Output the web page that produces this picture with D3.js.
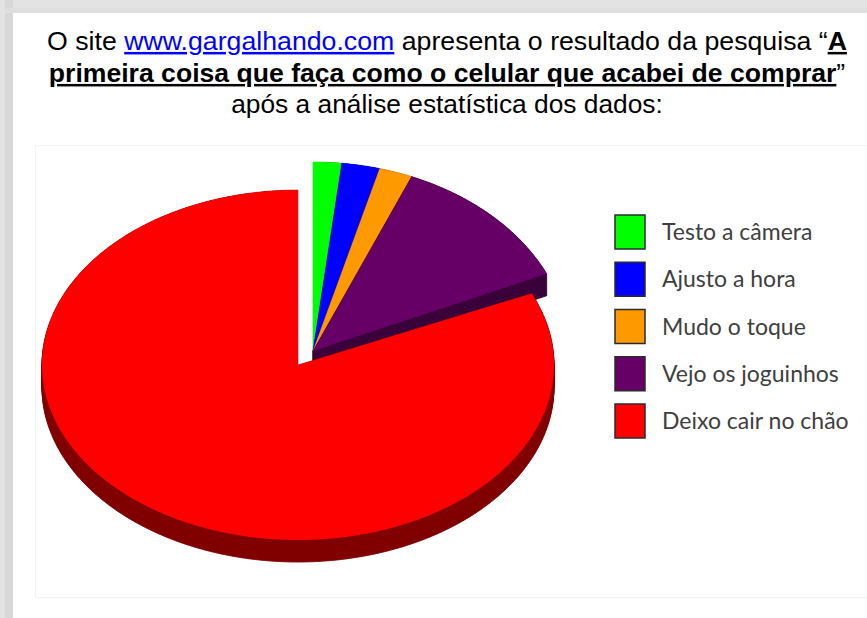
<!DOCTYPE html>
<html>
<head>
<meta charset="utf-8">
<script src="https://cdn.jsdelivr.net/npm/d3@7"></script>
<style>
  html, body { margin: 0; padding: 0; background: #fff; }
  svg { display: block; }
</style>
</head>
<body>
<script>
// ---- data ----
const categories = ["Testo a câmera", "Ajusto a hora", "Mudo o toque", "Vejo os joguinhos", "Deixo cair no chão"];
const values = [1.8, 2.4, 2.1, 12.0, 81.7];
const topColors = ["#00ff00", "#0000ff", "#ff9900", "#660066", "#ff0000"];
const sideColors = ["#00a800", "#00008c", "#b86a00", "#3a003a", "#800000"];
const pulledOut = [true, true, true, true, false];

// title lines, split into styled runs
const titleLines = [
  [{ t: "O site " }, { t: "www.gargalhando.com", link: true }, { t: " apresenta o resultado da pesquisa “" }, { t: "A", bold: true, under: true }],
  [{ t: "primeira coisa que faça como o celular que acabei de comprar", bold: true, under: true }, { t: "”" }],
  [{ t: "após a análise estatística dos dados:" }]
];
const titleWidths = [800, 797, 432];

const W = 867, H = 618;
const svg = d3.select("body").append("svg").attr("width", W).attr("height", H);

// page frame
svg.append("rect").attr("width", W).attr("height", H).attr("fill", "#e3e3e3");
svg.append("rect").attr("x", 5).attr("y", 0).attr("width", 8).attr("height", H).attr("fill", "#d8d8d8");
svg.append("rect").attr("x", 5).attr("y", 8).attr("width", W).attr("height", 5).attr("fill", "#dedede");
svg.append("rect").attr("x", 13).attr("y", 13).attr("width", W - 13).attr("height", H - 13).attr("fill", "#ffffff");

// chart area outline
svg.append("rect").attr("x", 35.5).attr("y", 145.5).attr("width", 840).attr("height", 452)
  .attr("fill", "none").attr("stroke", "#f3f3f3").attr("stroke-width", 1);

// ---- title ----
const cx = 447;
const title = svg.append("g").attr("font-family", "'Liberation Sans', Arial, sans-serif")
  .attr("font-size", 25).attr("fill", "#000").attr("text-anchor", "middle");
const baselines = [50, 82, 113];
titleLines.forEach((runs, i) => {
  const row = title.append("g");
  const txt = row.append("text").attr("x", 0).attr("y", baselines[i]);
  runs.forEach(r => {
    const sp = txt.append("tspan").text(r.t);
    if (r.bold) sp.attr("font-weight", "bold");
    if (r.under || r.link) sp.style("text-decoration", "underline");
    if (r.link) sp.attr("fill", "#0000ff");
  });
  // the face is set a little narrow; stretch each line to its column width
  const w = txt.node().getComputedTextLength();
  row.attr("transform", `translate(${cx},0) scale(${titleWidths[i] / w},1)`);
});

// ---- 3D pie ----
const arcs = d3.pie().sort(null).value(d => d)(values);
const depth = 22;
const base = { cx: 298, cy: 365, rx: 256, ry: 175 };
const pulled = { cx: 313, cy: 351, rx: 256, ry: 189 };

const ellPt = (g, t) => [g.cx + g.rx * Math.sin(t), g.cy - g.ry * Math.cos(t)];
function wedge(g, a0, a1) {
  const n = Math.max(2, Math.ceil((a1 - a0) / (Math.PI / 360)));
  const pts = [[g.cx, g.cy]];
  for (let i = 0; i <= n; i++) pts.push(ellPt(g, a0 + (a1 - a0) * i / n));
  return pts;
}
const area = p => d3.polygonArea(p);
const orient = p => (area(p) < 0 ? p.slice().reverse() : p);
const ring = p => "M" + p.map(q => q[0].toFixed(2) + "," + q[1].toFixed(2)).join("L") + "Z";
const down = p => [p[0], p[1] + depth];

function sidePath(pts) {
  let d = ring(orient(pts.map(down)));
  for (let i = 0; i < pts.length; i++) {
    const a = pts[i], b = pts[(i + 1) % pts.length];
    const quad = [a, b, down(b), down(a)];
    if (Math.abs(area(quad)) < 1e-6) continue;
    d += ring(orient(quad));
  }
  return d;
}

const pieG = svg.append("g");
arcs.forEach((a, i) => {
  const g = pulledOut[i] ? pulled : base;
  const pts = wedge(g, a.startAngle, a.endAngle);
  pieG.append("path").attr("d", sidePath(pts))
    .attr("fill", sideColors[i]).attr("stroke", sideColors[i]).attr("stroke-width", 0.5);
  pieG.append("path").attr("d", ring(pts)).attr("fill", topColors[i]);
});

// ---- legend ----
const ly = d3.scalePoint().domain(categories).range([232, 421]);
const legend = svg.append("g");
categories.forEach((c, i) => {
  legend.append("rect").attr("x", 615).attr("y", ly(c) - 17).attr("width", 30).attr("height", 34)
    .attr("fill", topColors[i]).attr("stroke", "#2b2b2b").attr("stroke-width", 1.5);
  legend.append("text").attr("x", 662).attr("y", ly(c) + 8)
    .attr("font-family", "Lato, 'Open Sans', sans-serif").attr("font-size", 23)
    .attr("fill", "#404040").text(c);
});
</script>
</body>
</html>
